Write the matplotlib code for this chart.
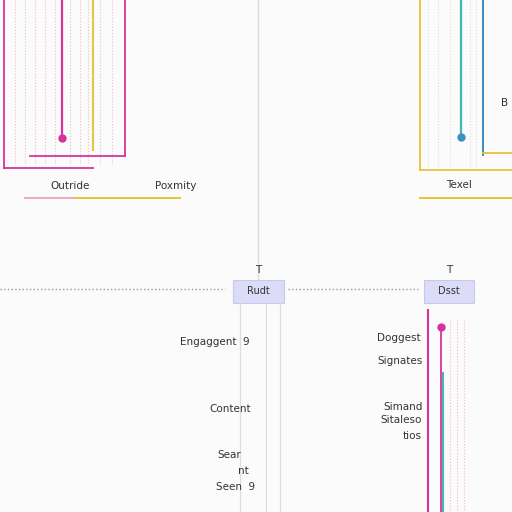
import matplotlib
matplotlib.use("Agg")
import matplotlib.pyplot as plt
from matplotlib.patches import Rectangle

MAGENTA = "#d6339a"
YELLOW = "#e8c23a"
TEAL = "#3bb8b0"
BLUE = "#3a8fc4"
GRAY = "#dddddd"
PINK_DOT = "#f2b8cc"

# solid segments: (x0, y0, x1, y1, color, width)
solid_segments = [
    (62, 0, 62, 138, MAGENTA, 1.6),
    (93, 0, 93, 150, YELLOW, 1.4),
    (4, 0, 4, 168, MAGENTA, 1.3),
    (4, 168, 93, 168, MAGENTA, 1.3),
    (125, 0, 125, 156, MAGENTA, 1.3),
    (30, 156, 125, 156, MAGENTA, 1.3),
    (25, 198, 75, 198, "#f0a8c8", 1.4),
    (75, 198, 180, 198, YELLOW, 1.4),
    (258, 0, 258, 280, GRAY, 1.0),
    (461, 0, 461, 137, TEAL, 1.6),
    (483, 0, 483, 155, BLUE, 1.4),
    (420, 0, 420, 170, YELLOW, 1.3),
    (420, 170, 512, 170, YELLOW, 1.3),
    (483, 153, 512, 153, YELLOW, 1.3),
    (420, 198, 512, 198, YELLOW, 1.4),
    (428, 310, 428, 512, MAGENTA, 1.5),
    (441, 327, 441, 512, MAGENTA, 1.3),
    (443, 373, 443, 512, TEAL, 1.4),
    (240, 303, 240, 512, GRAY, 0.9),
    (266, 303, 266, 512, GRAY, 0.9),
    (280, 303, 280, 512, GRAY, 0.9),
]
dotted_x_top_left = [15, 25, 35, 45, 55, 70, 80, 88, 100, 112]
dotted_x_top_right = [428, 438, 450, 470, 476]
dotted_x_bottom_right = [450, 457, 464]
dots = [(62, 138, MAGENTA), (461, 137, BLUE), (441, 327, MAGENTA)]
boxes = [(233, 280, 51, 23, "Rudt"), (424, 280, 50, 23, "Dsst")]
labels = [
    (70, 186, "Outride"), (176, 186, "Poxmity"), (459, 185, "Texel"), (505, 103, "B"),
    (258, 270, "T"), (449, 270, "T"),
    (215, 342, "Engaggent  9"), (230, 409, "Content"), (229, 455, "Sear"),
    (243, 471, "nt"), (236, 487, "Seen  9"),
    (399, 338, "Doggest"), (400, 361, "Signates"), (403, 407, "Simand"),
    (401, 420, "Sitaleso"), (412, 436, "tios"),
]

fig = plt.figure(figsize=(5.12, 5.12), dpi=100)
ax = fig.add_axes([0, 0, 1, 1])
ax.set_xlim(0, 512)
ax.set_ylim(512, 0)
ax.axis("off")
fig.patch.set_facecolor("#fbfbfb")

for x in dotted_x_top_left:
    ax.plot([x, x], [0, 165], color=PINK_DOT, lw=0.8, ls=":")
for x in dotted_x_top_right:
    ax.plot([x, x], [0, 168], color=GRAY, lw=0.8, ls=":")
for x in dotted_x_bottom_right:
    ax.plot([x, x], [320, 512], color=PINK_DOT, lw=0.8, ls=":")
ax.plot([0, 225], [289, 289], color="#999999", lw=1.0, ls=":")
ax.plot([288, 418], [289, 289], color="#999999", lw=1.0, ls=":")

for x0, y0, x1, y1, c, w in solid_segments:
    ax.plot([x0, x1], [y0, y1], color=c, lw=w)
for x, y, c in dots:
    ax.plot(x, y, "o", color=c, ms=5)
for x, y, w, h, t in boxes:
    ax.add_patch(Rectangle((x, y), w, h, facecolor="#dcdcf8", edgecolor="#c8c8ee", lw=0.8))
    ax.text(x + w / 2, y + h / 2, t, ha="center", va="center", fontsize=7, color="#333333")
for x, y, t in labels:
    ax.text(x, y, t, ha="center", va="center", fontsize=7.5, color="#333333")

fig.savefig("out.png", dpi=100)
